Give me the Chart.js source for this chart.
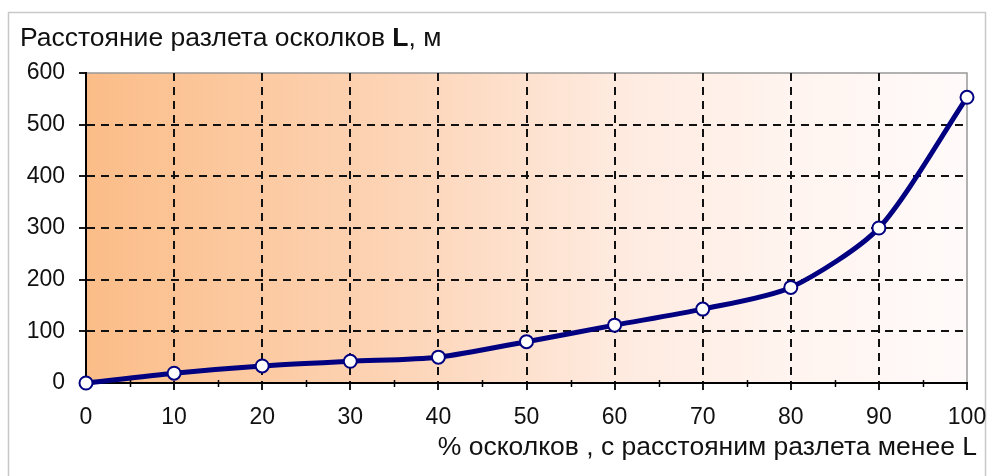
<!DOCTYPE html>
<html>
<head>
<meta charset="utf-8">
<script src="https://cdn.jsdelivr.net/npm/chart.js@4/dist/chart.umd.min.js"></script>
<style>
  html, body { margin: 0; padding: 0; background: #fff; }
  #wrap { width: 990px; height: 476px; position: relative; }
</style>
</head>
<body>
<div id="wrap"><canvas id="c"></canvas></div>
<script>
// данные графика
const percents = [0, 10, 20, 30, 40, 50, 60, 70, 80, 90, 100];
const distances = [0, 19, 33, 42, 50, 80, 112, 143, 185, 300, 553];
const yTicks = [0, 100, 200, 300, 400, 500, 600];
const minorX = [5, 15, 25, 35, 45, 55, 65, 75, 85, 95];

const yTitleNormal = "Расстояние разлета осколков ";
const yTitleBold = "L";
const yTitleEnd = ", м";
const xTitle = "% осколков , с расстояним разлета менее L";

const FONT = "'Liberation Sans', Arial, sans-serif";

// фон области построения + рамка + подписи
const decor = {
  id: "decor",
  beforeDraw(chart) {
    const { ctx, chartArea: a } = chart;
    ctx.save();
    // внешняя рамка
    ctx.strokeStyle = "#c8c8c8";
    ctx.lineWidth = 1.5;
    ctx.strokeRect(8.5, 12.5, 977, 470);
    // градиент
    const g = ctx.createLinearGradient(a.left, 0, a.right, 0);
    g.addColorStop(0, "#fbbd88");
    g.addColorStop(0.35, "#fdd4b6");
    g.addColorStop(0.6, "#feeadf");
    g.addColorStop(0.8, "#fff4ef");
    g.addColorStop(1, "#fffafa");
    ctx.fillStyle = g;
    ctx.fillRect(a.left, a.top, a.right - a.left, a.bottom - a.top);
    // верх и правая граница области
    ctx.strokeStyle = "#999";
    ctx.lineWidth = 1.5;
    ctx.beginPath();
    ctx.moveTo(a.left, a.top);
    ctx.lineTo(a.right, a.top);
    ctx.lineTo(a.right, a.bottom);
    ctx.stroke();
    ctx.restore();
  },
  afterDraw(chart) {
    const { ctx, chartArea: a, scales } = chart;
    ctx.save();
    // мелкие засечки по оси X
    ctx.strokeStyle = "#000";
    ctx.lineWidth = 1.5;
    minorX.forEach(v => {
      const px = Math.round(scales.x.getPixelForValue(v)) + 0.5;
      ctx.beginPath();
      ctx.moveTo(px, a.bottom - 3);
      ctx.lineTo(px, a.bottom + 4);
      ctx.stroke();
    });
    // заголовок оси Y
    ctx.fillStyle = "#111";
    ctx.textBaseline = "alphabetic";
    ctx.font = "26.5px " + FONT;
    let x = 20;
    const y = 46;
    ctx.fillText(yTitleNormal, x, y);
    x += ctx.measureText(yTitleNormal).width;
    ctx.font = "bold 26.5px " + FONT;
    ctx.fillText(yTitleBold, x, y);
    x += ctx.measureText(yTitleBold).width;
    ctx.font = "26.5px " + FONT;
    ctx.fillText(yTitleEnd, x, y);
    // заголовок оси X
    ctx.textAlign = "right";
    ctx.fillText(xTitle, 977, 455);
    ctx.restore();
  }
};

new Chart(document.getElementById("c"), {
  type: "line",
  data: {
    datasets: [{
      data: percents.map((p, i) => ({ x: p, y: distances[i] })),
      borderColor: "#000080",
      borderWidth: 5,
      pointRadius: 6.5,
      pointHoverRadius: 6.5,
      pointBorderWidth: 2,
      pointBackgroundColor: "#ffffff",
      pointBorderColor: "#000080",
      tension: 0.25,
      fill: false
    }]
  },
  options: {
    responsive: true,
    maintainAspectRatio: false,
    animation: false,
    clip: false,
    layout: { padding: { left: 0, top: 73, right: 23, bottom: 0 } },
    plugins: { legend: { display: false }, tooltip: { enabled: false } },
    scales: {
      x: {
        type: "linear",
        min: 0,
        max: 100,
        afterFit: s => { s.height = 93; s.paddingRight = 0; s.paddingLeft = 0; },
        ticks: {
          stepSize: 10,
          color: "#111",
          font: { family: FONT, size: 23 },
          padding: 14,
          maxRotation: 0
        },
        grid: {
          color: c => (c.tick.value === 0 || c.tick.value === 100) ? "rgba(0,0,0,0)" : "#111",
          lineWidth: 2,
          drawTicks: true,
          tickLength: 7,
          tickColor: "#000",
          tickWidth: 1.8
        },
        border: { display: true, color: "#000", width: 2, dash: [8, 6] }
      },
      y: {
        min: 0,
        max: 600,
        afterFit: s => { s.width = 86; },
        afterBuildTicks: s => { s.ticks = yTicks.map(v => ({ value: v })); },
        ticks: {
          color: "#111",
          font: { family: FONT, size: 23 },
          padding: 14
        },
        grid: {
          color: c => (c.tick.value === 0 || c.tick.value === 600) ? "rgba(0,0,0,0)" : "#111",
          lineWidth: 2,
          drawTicks: true,
          tickLength: 7,
          tickColor: "#000",
          tickWidth: 1.8
        },
        border: { display: true, color: "#000", width: 2, dash: [8, 6] }
      }
    }
  },
  plugins: [decor]
});
</script>
</body>
</html>
